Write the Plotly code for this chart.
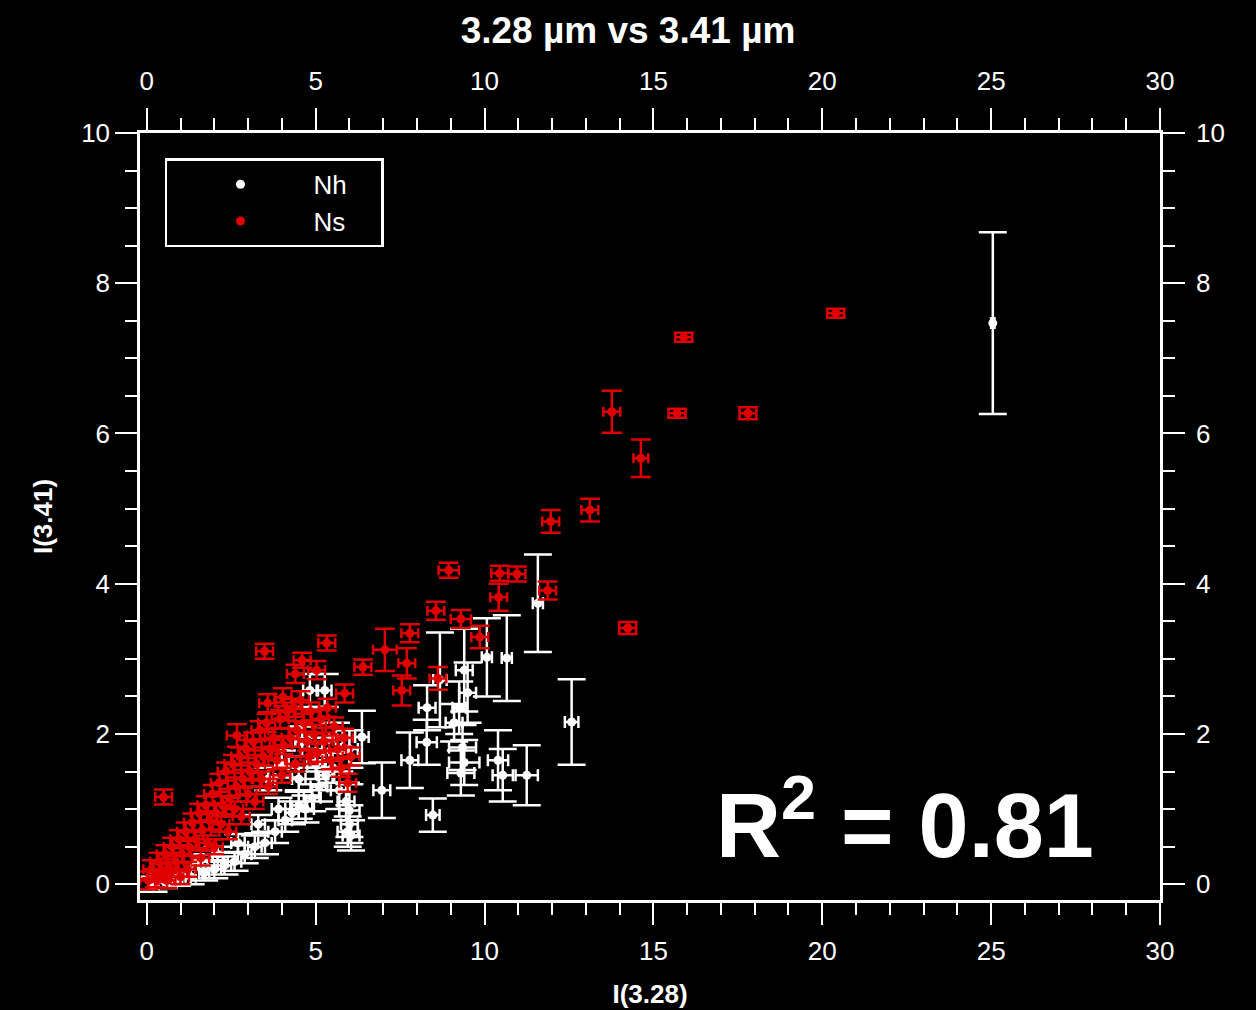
import plotly.graph_objects as go

# ---------------- data ----------------
# Nh (white) points
nh_x = [25.05, 11.58, 10.66, 10.07, 12.58, 8.68, 9.40, 9.50, 9.25, 8.30, 9.10,
        8.29, 7.79, 6.96, 6.37, 8.47, 9.40, 9.35, 9.30, 10.40, 10.54, 11.25,
        6.00, 5.95,
        0.2, 0.5, 0.9, 1.3, 1.7, 2.0, 2.3, 2.6, 2.9, 3.2, 3.5, 3.8, 4.1, 4.3,
        4.5, 4.7, 4.9, 5.1, 5.3, 5.5, 5.7, 5.9, 6.0, 6.05, 5.0, 6.0, 4.83, 5.27,
        4.5, 3.9, 3.3, 2.7, 2.1, 1.5, 5.6, 5.2, 4.6, 4.0, 3.6]
nh_y = [7.47, 3.74, 3.01, 3.02, 2.16, 2.72, 2.85, 2.55, 2.35, 2.35, 2.15,
        1.89, 1.65, 1.25, 1.96, 0.92, 1.62, 1.82, 1.48, 1.65, 1.45, 1.45,
        0.98, 0.70,
        0.00, 0.05, 0.08, 0.10, 0.15, 0.20, 0.25, 0.30, 0.40, 0.50, 0.55, 0.70, 0.85, 0.95,
        1.05, 1.00, 1.15, 1.30, 1.45, 1.55, 1.25, 1.10, 0.80, 0.65, 1.60, 1.80, 2.58, 2.58,
        1.40, 1.00, 0.80, 0.55, 0.40, 0.30, 1.95, 1.75, 1.90, 1.60, 1.40]
nh_ey = [1.21, 0.65, 0.57, 0.52, 0.57, 0.63, 0.55, 0.40, 0.35, 0.30, 0.25,
         0.30, 0.37, 0.37, 0.35, 0.22, 0.30, 0.30, 0.30, 0.40, 0.35, 0.40,
         0.35, 0.20,
         0.10, 0.10, 0.10, 0.10, 0.10, 0.12, 0.12, 0.12, 0.12, 0.15, 0.15, 0.15, 0.15, 0.15,
         0.18, 0.18, 0.18, 0.20, 0.20, 0.20, 0.25, 0.25, 0.25, 0.20, 0.20, 0.25, 0.22, 0.22,
         0.15, 0.15, 0.12, 0.12, 0.10, 0.10, 0.20, 0.20, 0.20, 0.18, 0.15]
nh_ex = [0.05, 0.15, 0.15, 0.15, 0.20, 0.20, 0.25, 0.25, 0.20, 0.25, 0.25,
         0.30, 0.25, 0.25, 0.20, 0.20, 0.45, 0.40, 0.40, 0.30, 0.30, 0.33,
         0.30, 0.30,
         0.15, 0.15, 0.15, 0.15, 0.15, 0.20, 0.20, 0.20, 0.20, 0.20, 0.20, 0.20, 0.20, 0.20,
         0.25, 0.25, 0.25, 0.25, 0.25, 0.25, 0.25, 0.25, 0.25, 0.25, 0.25, 0.25, 0.20, 0.20,
         0.20, 0.20, 0.20, 0.20, 0.15, 0.15, 0.20, 0.20, 0.20, 0.20, 0.20]

# Ns (red) points
ns_x = [20.40, 15.90, 15.70, 17.80, 13.77, 14.63, 14.24, 13.12, 11.96, 11.87,
        8.94, 10.96, 10.45, 10.42, 9.30, 8.56, 9.86, 7.79, 7.05, 5.33,
        3.49, 6.40, 4.60, 4.40, 7.70, 8.62, 7.55, 5.86, 3.58, 0.50, 2.67, 4.03, 5.03,
        0.05, 0.15, 0.25, 0.35, 0.45, 0.55, 0.65, 0.75, 0.85, 0.95, 1.05, 1.15, 1.25,
        1.35, 1.45, 1.55, 1.65, 1.75, 1.85, 1.95, 2.05, 2.15, 2.25, 2.35, 2.45, 2.55,
        2.65, 2.75, 2.85, 2.95, 3.05, 3.15, 3.25, 3.35, 3.45, 3.55, 3.65, 3.75, 3.85,
        3.95, 4.05, 4.15, 4.25, 4.35, 4.45, 4.55, 4.65, 4.75, 4.85, 4.95, 5.05, 5.15,
        5.25, 5.35, 5.45, 5.55, 5.65, 5.75, 5.85, 5.95, 6.05,
        1.2, 1.6, 2.0, 2.4, 2.8, 3.2, 3.6, 4.0, 4.4, 4.8, 0.6, 1.0, 2.2, 3.0, 1.8, 2.6, 3.4]
ns_y = [7.60, 7.28, 6.27, 6.27, 6.29, 5.67, 3.41, 4.98, 4.83, 3.91,
        4.18, 4.13, 4.14, 3.82, 3.53, 3.64, 3.29, 3.34, 3.12, 3.21,
        3.10, 2.89, 2.98, 2.80, 2.94, 2.74, 2.58, 2.54, 2.41, 1.16, 1.98, 2.49, 2.85,
        0.05, 0.20, 0.08, 0.30, 0.15, 0.40, 0.22, 0.50, 0.30, 0.60, 0.40, 0.70, 0.50,
        0.82, 0.60, 0.95, 0.72, 1.05, 0.85, 1.20, 0.95, 1.35, 1.05, 1.50, 1.15, 1.60,
        1.30, 1.70, 1.40, 1.80, 1.50, 1.90, 1.60, 2.05, 1.70, 2.15, 1.80, 1.95, 1.65,
        2.20, 1.85, 2.30, 1.95, 2.35, 2.05, 2.45, 2.15, 1.90, 2.30, 2.00, 1.75, 2.20,
        1.90, 2.35, 1.65, 2.10, 1.80, 1.55, 1.95, 1.35, 1.70,
        0.20, 0.35, 0.50, 0.70, 0.90, 1.10, 1.30, 1.45, 1.60, 1.70, 0.05, 0.10, 0.80, 1.20, 0.55, 1.00, 1.40]
ns_ey = [0.06, 0.06, 0.06, 0.08, 0.28, 0.25, 0.08, 0.15, 0.15, 0.12,
         0.10, 0.10, 0.10, 0.18, 0.12, 0.12, 0.15, 0.12, 0.28, 0.10,
         0.10, 0.10, 0.10, 0.12, 0.20, 0.15, 0.20, 0.12, 0.12, 0.10, 0.15, 0.12, 0.12] + [0.12] * 61 + [0.10] * 17
ns_ex = [0.25, 0.25, 0.25, 0.25, 0.25, 0.22, 0.25, 0.25, 0.25, 0.25,
         0.30, 0.25, 0.25, 0.25, 0.30, 0.25, 0.25, 0.25, 0.35, 0.25,
         0.25, 0.25, 0.25, 0.25, 0.25, 0.25, 0.25, 0.25, 0.25, 0.25, 0.30, 0.25, 0.25] + [0.25] * 61 + [0.25] * 17

# axis ticks
x_ticks = [0, 5, 10, 15, 20, 25, 30]
y_ticks = [0, 2, 4, 6, 8, 10]
x_range = [-0.2, 30]
y_range = [-0.21, 10]

RED = "#e00000"
FONT = "Liberation Sans, Arial, sans-serif"

fig = go.Figure()
fig.add_trace(go.Scatter(
    x=nh_x, y=nh_y, mode="markers", name="Nh&nbsp;&nbsp;&nbsp;&nbsp;",
    marker=dict(color="white", size=9),
    error_y=dict(type="data", array=nh_ey, color="white", thickness=2.5, width=14),
    error_x=dict(type="data", array=nh_ex, color="white", thickness=2.5, width=6),
))
fig.add_trace(go.Scatter(
    x=ns_x, y=ns_y, mode="markers", name="Ns",
    marker=dict(color=RED, size=9),
    error_y=dict(type="data", array=ns_ey, color=RED, thickness=2.5, width=10),
    error_x=dict(type="data", array=ns_ex, color=RED, thickness=2.5, width=5),
))
# empty trace so the mirrored (top / right) axes are drawn
fig.add_trace(go.Scatter(x=[], y=[], xaxis="x2", yaxis="y2", showlegend=False,
                         hoverinfo="skip"))

axis_common = dict(
    showline=True, linecolor="white", linewidth=2.5, mirror=False,
    ticks="outside", tickcolor="white", tickwidth=2, ticklen=22,
    showgrid=False, zeroline=False, automargin=False,
    tickfont=dict(family=FONT, size=26, color="white"),
)
minor_x = dict(dtick=1, ticks="outside", ticklen=12, tickcolor="white", tickwidth=2)
minor_y = dict(dtick=0.5, ticks="outside", ticklen=12, tickcolor="white", tickwidth=2)

fig.update_layout(
    width=1256, height=1010,
    paper_bgcolor="black", plot_bgcolor="black",
    margin=dict(l=140, r=96, t=133, b=110),
    title=dict(text="<b>3.28 µm vs 3.41 µm</b>", x=0.5, xanchor="center",
               y=0.97, yanchor="middle",
               font=dict(family=FONT, size=37, color="white")),
    xaxis=dict(range=x_range, tickvals=x_ticks, ticklabelstandoff=4,
               minor=minor_x,
               title=dict(text="<b>I(3.28)</b>", font=dict(family=FONT, size=26, color="white"),
                          standoff=20),
               **axis_common),
    xaxis2=dict(range=x_range, tickvals=x_ticks, overlaying="x", side="top", anchor="y",
                ticklabelstandoff=8, minor=minor_x, **axis_common),
    yaxis=dict(range=y_range, tickvals=y_ticks, ticklabelstandoff=0,
               minor=minor_y,
               title=dict(text="<b>I(3.41)</b>", font=dict(family=FONT, size=26, color="white"),
                          standoff=22),
               **axis_common),
    yaxis2=dict(range=y_range, tickvals=y_ticks, overlaying="y", side="right", anchor="x",
                ticklabelstandoff=6, minor=minor_y, **axis_common),
    legend=dict(x=0.0245, y=0.967, xanchor="left", yanchor="top",
                bgcolor="black", bordercolor="white", borderwidth=2.5,
                font=dict(family=FONT, size=26, color="white"),
                itemwidth=136, tracegroupgap=0),
    showlegend=True,
    annotations=[dict(
        text="<b>R<sup>2</sup> = 0.81</b>", xref="paper", yref="paper",
        x=0.75, y=0.105, xanchor="center", yanchor="middle", showarrow=False,
        font=dict(family=FONT, size=90, color="white"),
    )],
)

fig.write_html("out.html",
               config={"displayModeBar": False},
               post_script="document.body.style.margin='0';"
                           "document.body.style.background='black';")
